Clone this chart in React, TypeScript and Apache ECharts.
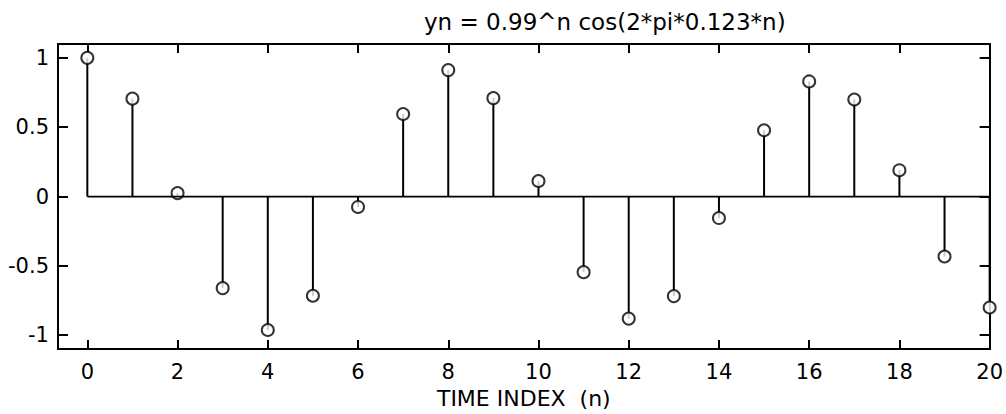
import React, { useEffect, useRef } from "react";
import * as echarts from "echarts";

const titleText = "yn = 0.99^n cos(2*pi*0.123*n)";
const xName = "TIME INDEX  (n)";
const nIndex = [0, 1, 2, 3, 4, 5, 6, 7, 8, 9, 10, 11, 12, 13, 14, 15, 16, 17, 18, 19, 20];
const yValues = [1.0, 0.706, 0.025, -0.66, -0.962, -0.715, -0.075, 0.595, 0.912, 0.71, 0.112, -0.545, -0.88, -0.718, -0.155, 0.478, 0.83, 0.7, 0.19, -0.432, -0.8];
const xTicks = [0, 2, 4, 6, 8, 10, 12, 14, 16, 18, 20];
const yTicks = [-1, -0.5, 0, 0.5, 1];

const FONT = "DejaVu Sans, Arial, Helvetica, sans-serif";

export default function App() {
  const ref = useRef<HTMLDivElement>(null);
  useEffect(() => {
    if (!ref.current) return;
    const chart = echarts.init(ref.current, null, { renderer: "svg" });
    const points = nIndex.map((n, i) => [n, yValues[i]]);
    const axisLine = { show: true, onZero: false, lineStyle: { color: "#000", width: 2 } };
    const tickStyle = { color: "#000", width: 2 };
    chart.setOption({
      animation: false,
      backgroundColor: "#fff",
      title: {
        text: titleText,
        left: 419,
        top: 5,
        textStyle: { fontFamily: FONT, fontSize: 23, fontWeight: "normal", color: "#000" },
      },
      grid: { left: 58, top: 44, right: 14, bottom: 63, containLabel: false },
      xAxis: [
        {
          type: "value",
          min: -0.65,
          max: 20,
          position: "bottom",
          axisLine,
          axisTick: { show: true, inside: true, length: 9, lineStyle: tickStyle, customValues: xTicks },
          axisLabel: {
            show: true,
            customValues: xTicks,
            margin: 12,
            color: "#000",
            fontFamily: FONT,
            fontSize: 21,
          },
          splitLine: { show: false },
          name: xName,
          nameLocation: "middle",
          nameGap: 36,
          nameTextStyle: { fontFamily: FONT, fontSize: 22, color: "#000" },
        },
        {
          type: "value",
          min: -0.65,
          max: 20,
          position: "top",
          axisLine,
          axisTick: { show: true, inside: true, length: 9, lineStyle: tickStyle, customValues: xTicks },
          axisLabel: { show: false },
          splitLine: { show: false },
        },
      ],
      yAxis: [
        {
          type: "value",
          min: -1.1,
          max: 1.1,
          position: "left",
          axisLine,
          axisTick: { show: true, inside: true, length: 10, lineStyle: tickStyle, customValues: yTicks },
          axisLabel: {
            show: true,
            customValues: yTicks,
            margin: 9,
            color: "#000",
            fontFamily: FONT,
            fontSize: 21,
          },
          splitLine: { show: false },
        },
        {
          type: "value",
          min: -1.1,
          max: 1.1,
          position: "right",
          axisLine,
          axisTick: { show: true, inside: true, length: 10, lineStyle: tickStyle, customValues: yTicks },
          axisLabel: { show: false },
          splitLine: { show: false },
        },
      ],
      series: [
        {
          type: "line",
          data: [[0, 0], [20, 0]],
          symbol: "none",
          lineStyle: { color: "#000", width: 1.8 },
          silent: true,
        },
        {
          type: "custom",
          data: points,
          renderItem: (params: any, api: any) => {
            const x = api.value(0);
            const y = api.value(1);
            const p0 = api.coord([x, 0]);
            const p1 = api.coord([x, y]);
            return {
              type: "line",
              shape: { x1: p0[0], y1: p0[1], x2: p1[0], y2: p1[1] },
              style: { stroke: "#000", lineWidth: 2 },
            };
          },
          silent: true,
        },
        {
          type: "scatter",
          data: points,
          symbol: "circle",
          symbolSize: 12,
          itemStyle: { color: "#fff", borderColor: "#000", borderWidth: 2 },
          silent: true,
        },
      ],
    });
    return () => chart.dispose();
  }, []);
  return (
    <div
      ref={ref}
      style={{ position: "fixed", left: 0, top: 0, width: 1006, height: 414, background: "#fff" }}
    />
  );
}
